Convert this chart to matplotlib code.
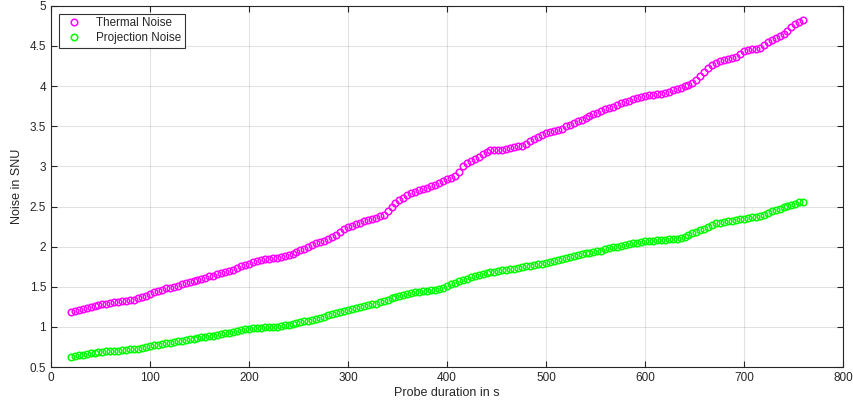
import numpy as np
import matplotlib.pyplot as plt

# probe durations in seconds, sampled every 4 s
duration = np.arange(20, 764, 4)

thermal = [
    1.18, 1.195, 1.21, 1.225, 1.24, 1.25, 1.26, 1.27, 1.28, 1.29,
    1.30, 1.305, 1.31, 1.32, 1.325, 1.33, 1.34, 1.355, 1.37, 1.39,
    1.41, 1.43, 1.45, 1.465, 1.48, 1.49, 1.50, 1.515, 1.53, 1.55,
    1.565, 1.575, 1.59, 1.60, 1.615, 1.63, 1.64, 1.655, 1.67, 1.685,
    1.70, 1.715, 1.735, 1.755, 1.775, 1.79, 1.805, 1.82, 1.835, 1.84,
    1.85, 1.855, 1.86, 1.87, 1.88, 1.895, 1.91, 1.93, 1.955, 1.975,
    2.00, 2.02, 2.04, 2.06, 2.075, 2.09, 2.115, 2.14, 2.18, 2.215,
    2.24, 2.26, 2.285, 2.30, 2.315, 2.33, 2.345, 2.36, 2.38, 2.40,
    2.44, 2.49, 2.54, 2.58, 2.61, 2.64, 2.665, 2.685, 2.70, 2.72,
    2.735, 2.75, 2.77, 2.79, 2.815, 2.84, 2.86, 2.885, 2.93, 3.00,
    3.04, 3.065, 3.09, 3.12, 3.15, 3.18, 3.20, 3.205, 3.20, 3.20,
    3.21, 3.225, 3.24, 3.25, 3.255, 3.28, 3.31, 3.345, 3.37, 3.39,
    3.41, 3.425, 3.44, 3.455, 3.47, 3.50, 3.52, 3.54, 3.56, 3.58,
    3.60, 3.625, 3.65, 3.67, 3.69, 3.71, 3.73, 3.745, 3.765, 3.785,
    3.80, 3.82, 3.84, 3.855, 3.87, 3.88, 3.885, 3.89, 3.895, 3.90,
    3.915, 3.93, 3.945, 3.96, 3.975, 3.995, 4.015, 4.04, 4.07, 4.12,
    4.17, 4.22, 4.26, 4.29, 4.31, 4.325, 4.335, 4.35, 4.36, 4.40,
    4.44, 4.45, 4.46, 4.465, 4.47, 4.51, 4.545, 4.575, 4.60, 4.62,
    4.65, 4.69, 4.74, 4.77, 4.80, 4.82,
]

projection = [
    0.63, 0.64, 0.65, 0.655, 0.665, 0.67, 0.68, 0.685, 0.69, 0.70,
    0.70, 0.705, 0.705, 0.71, 0.715, 0.72, 0.72, 0.725, 0.735, 0.745,
    0.76, 0.77, 0.78, 0.79, 0.80, 0.805, 0.815, 0.82, 0.83, 0.84,
    0.845, 0.855, 0.86, 0.87, 0.88, 0.885, 0.89, 0.90, 0.91, 0.92,
    0.93, 0.94, 0.955, 0.965, 0.975, 0.98, 0.985, 0.99, 0.99, 0.995,
    1.00, 1.00, 1.005, 1.01, 1.02, 1.03, 1.04, 1.05, 1.06, 1.07,
    1.08, 1.09, 1.10, 1.115, 1.13, 1.145, 1.16, 1.175, 1.19, 1.20,
    1.21, 1.225, 1.235, 1.245, 1.26, 1.27, 1.28, 1.29, 1.305, 1.32,
    1.34, 1.36, 1.375, 1.39, 1.40, 1.41, 1.42, 1.43, 1.44, 1.445,
    1.45, 1.455, 1.465, 1.475, 1.49, 1.51, 1.53, 1.55, 1.57, 1.585,
    1.60, 1.62, 1.635, 1.65, 1.665, 1.675, 1.685, 1.69, 1.70, 1.705,
    1.71, 1.72, 1.725, 1.735, 1.745, 1.755, 1.765, 1.775, 1.785, 1.79,
    1.80, 1.81, 1.825, 1.835, 1.85, 1.86, 1.87, 1.88, 1.89, 1.905,
    1.915, 1.925, 1.935, 1.94, 1.95, 1.965, 1.98, 1.99, 2.00, 2.01,
    2.02, 2.03, 2.04, 2.05, 2.06, 2.07, 2.07, 2.075, 2.08, 2.08,
    2.085, 2.09, 2.095, 2.10, 2.11, 2.125, 2.145, 2.165, 2.185, 2.21,
    2.225, 2.25, 2.275, 2.29, 2.30, 2.31, 2.315, 2.325, 2.33, 2.34,
    2.35, 2.36, 2.37, 2.375, 2.38, 2.40, 2.42, 2.44, 2.455, 2.47,
    2.49, 2.505, 2.52, 2.535, 2.55, 2.56,
]

plt.rcParams['font.family'] = ['Liberation Sans', 'DejaVu Sans']
axis_color = '#262626'

fig = plt.figure(figsize=(8.54, 4.12), dpi=100)
ax = fig.add_axes([0.0597, 0.109, 0.9273, 0.877])

ax.plot(duration, thermal, 'o', color='#ff00ff', markerfacecolor='none',
        markersize=4.7, markeredgewidth=1.1, label='Thermal Noise')
ax.plot(duration, projection, 'o', color='#00ff00', markerfacecolor='none',
        markersize=4.7, markeredgewidth=1.1, label='Projection Noise')

ax.set_xlim(0, 800)
ax.set_ylim(0.5, 5)
ax.set_xticks(np.arange(0, 801, 100))
ax.set_yticks(np.arange(0.5, 5.01, 0.5))
ax.set_yticklabels(['0.5', '1', '1.5', '2', '2.5', '3', '3.5', '4', '4.5', '5'])

ax.grid(True, color='#262626', alpha=0.13, linewidth=0.8)
ax.tick_params(direction='in', length=4, width=0.8, colors=axis_color,
               labelsize=8.5, top=True, right=True)
for spine in ax.spines.values():
    spine.set_color(axis_color)
    spine.set_linewidth(0.8)

ax.set_xlabel('Probe duration in s', fontsize=9, color=axis_color, labelpad=2)
ax.set_ylabel('Noise in SNU', fontsize=9, color=axis_color, labelpad=5)

leg = ax.legend(loc='upper left', fontsize=8.4, frameon=True, fancybox=False,
                edgecolor='black', borderaxespad=0.7, handletextpad=0.9,
                borderpad=0.3, labelspacing=0.25, handlelength=2.0)
leg.get_frame().set_linewidth(0.8)
for text in leg.get_texts():
    text.set_color(axis_color)

fig.savefig('out.png', dpi=100)
